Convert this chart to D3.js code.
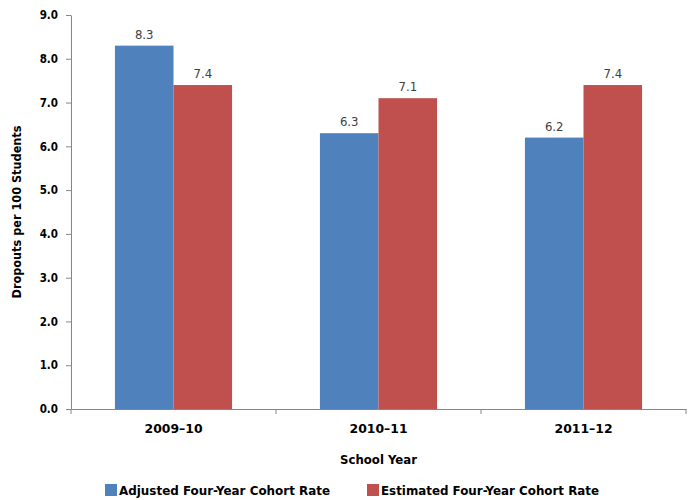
<!DOCTYPE html>
<html><head><meta charset="utf-8">
<script src="https://cdn.jsdelivr.net/npm/d3@7"></script>
<style>body{margin:0;background:#fff;} text{font-family:"DejaVu Sans Condensed","DejaVu Sans",sans-serif;}</style>
</head><body>
<svg id="c" width="688" height="500"></svg>
<script>
const categories = ["2009\u201310", "2010\u201311", "2011\u201312"];
const seriesNames = ["Adjusted Four-Year Cohort Rate", "Estimated Four-Year Cohort Rate"];
const adjusted = [8.3, 6.3, 6.2];
const estimated = [7.4, 7.1, 7.4];
const yTicks = [0,1,2,3,4,5,6,7,8,9];
const colors = ["#4F81BD", "#C0504D"];

const svg = d3.select("#c");
const m = {l:71, r:2, t:15, b:91};
const W = 688, H = 500;
const x = d3.scaleBand().domain(categories).range([m.l, W - m.r]).paddingInner(0).paddingOuter(0);
const xs = d3.scaleBand().domain([0,1]).range([0, x.bandwidth()]).paddingInner(0).paddingOuter(0.75);
const y = d3.scaleLinear().domain([0,9]).range([H - m.b, m.t]);

const data = categories.map((c,i)=>({c, v:[adjusted[i], estimated[i]]}));

// y axis
const ya = svg.append("g").attr("transform",`translate(${m.l},0)`)
  .call(d3.axisLeft(y).tickValues(yTicks).tickFormat(d3.format(".1f")).tickSize(5).tickSizeOuter(0));
ya.select(".domain").attr("stroke","#868686");
ya.selectAll(".tick line").attr("stroke","#868686");
ya.selectAll(".tick text").attr("font-size",11.5).attr("font-weight","bold").attr("fill","#000").attr("x",-13);

// bars
const g = svg.append("g");
data.forEach(d=>{
  d.v.forEach((v,j)=>{
    g.append("rect").attr("x", x(d.c)+xs(j)).attr("width", xs.bandwidth())
      .attr("y", y(v)).attr("height", y(0)-y(v)).attr("fill", colors[j]);
    g.append("text").attr("x", x(d.c)+xs(j)+xs.bandwidth()/2).attr("y", y(v)-7)
      .attr("text-anchor","middle").attr("font-size",13).attr("fill","#404040")
      .attr("font-family","'Open Sans',sans-serif")
      .text(d3.format(".1f")(v));
  });
});

// x axis
const xa = svg.append("g").attr("transform",`translate(0,${y(0)})`)
  .call(d3.axisBottom(x).tickSize(0).tickSizeOuter(0));
xa.select(".domain").attr("stroke","#868686");
xa.selectAll(".tick text").attr("font-size",12).attr("font-weight","bold").attr("fill","#000")
  .attr("dy","1.75em").attr("textLength",58).attr("lengthAdjust","spacingAndGlyphs");
// category boundary ticks
const bounds = categories.map(c=>x(c)).concat([x(categories[categories.length-1])+x.bandwidth()]);
svg.append("g").selectAll("line").data(bounds).join("line")
  .attr("x1",d=>d).attr("x2",d=>d).attr("y1",y(0)).attr("y2",y(0)+5).attr("stroke","#868686");

// axis titles
svg.append("text").attr("transform",`translate(21,${(y(0)+y(9))/2}) rotate(-90)`)
  .attr("text-anchor","middle").attr("font-size",12).attr("font-weight","bold")
  .attr("textLength",173).attr("lengthAdjust","spacingAndGlyphs").text("Dropouts per 100 Students");
svg.append("text").attr("x",(m.l+W-m.r)/2).attr("y",464).attr("text-anchor","middle")
  .attr("font-size",12).attr("font-weight","bold")
  .attr("textLength",77).attr("lengthAdjust","spacingAndGlyphs").text("School Year");

// legend
const lx = [105, 367];
const lw = [211, 218];
seriesNames.forEach((s,i)=>{
  svg.append("rect").attr("x",lx[i]).attr("y",484).attr("width",12).attr("height",12).attr("fill",colors[i]);
  svg.append("text").attr("x",lx[i]+14).attr("y",494.5).attr("font-size",12.5).attr("font-weight","bold")
    .attr("textLength",lw[i]).attr("lengthAdjust","spacingAndGlyphs").text(s);
});
</script>
</body></html>
